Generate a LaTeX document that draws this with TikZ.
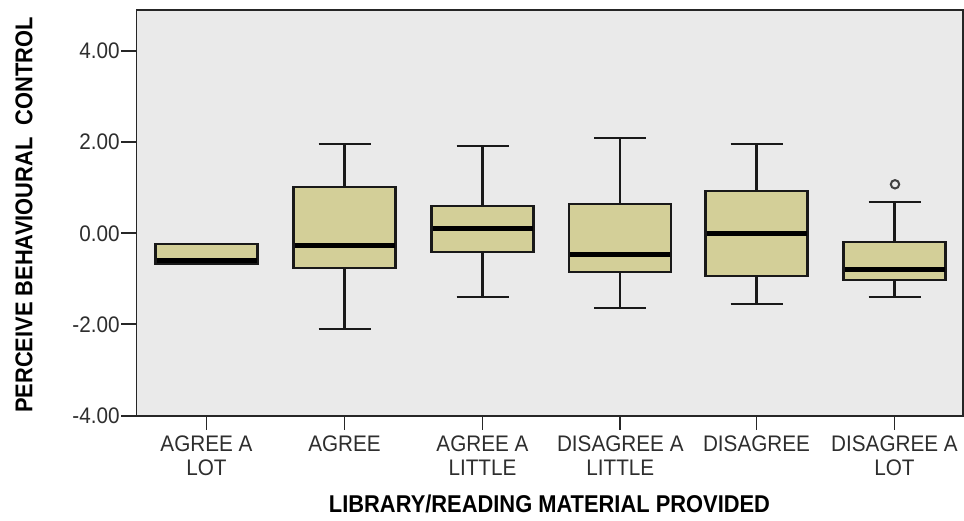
\documentclass[tikz,border=0pt]{standalone}
\usepackage{fontspec}
\setmainfont{Liberation Sans}
\newfontfamily\narrowsans[FakeStretch=0.92]{Liberation Sans}
\newfontfamily\narrowbold[FakeStretch=0.9]{Liberation Sans Bold}
\begin{document}
\begin{tikzpicture}[x=1pt,y=-1pt,
  axisline/.style={line width=1.8pt,draw=black!85},
  boxbody/.style={fill=boxfill,draw=black!90,line width=2.2pt},
  whisk/.style={draw=black!90,line width=2.1pt},
  medianbar/.style={draw=black,line width=5pt},
  ticklab/.style={font=\narrowsans\fontsize{22.5}{24}\selectfont,text=black!82,inner sep=0pt},
  catlab/.style={font=\narrowsans\fontsize{22.5}{24}\selectfont,text=black!82,align=center,inner sep=0pt,anchor=north},
  axtitle/.style={font=\narrowbold\fontsize{24.3}{24}\selectfont,inner sep=0pt}]
\definecolor{boxfill}{HTML}{D3CF98}
\definecolor{plotbg}{HTML}{EAEAEA}
\useasboundingbox (0,0) rectangle (964,521);
\fill[white] (0,0) rectangle (964,521);
% plot area
\fill[plotbg] (136.5,10) rectangle (963,416);
% y axis ticks and labels
\foreach \yy/\lab [count=\k] in {50.7/4.00,141.7/2.00,233.3/0.00,324.3/-2.00,416/-4.00}{
  \coordinate (yt\k) at (136.5,\yy);
  \draw[axisline] (yt\k) -- ++(-16,0) node[ticklab,anchor=east] (ylab\k) {\lab};
}
% boxes: centre / upper whisker / Q3 / median / Q1 / lower whisker
\foreach \cx/\wt/\qt/\md/\qb/\wb [count=\k] in {
  206.5/0/244/261/263.5/0,
  344.5/144.3/186.7/246/267.7/329,
  482.5/146/205.7/229/252.3/297.3,
  620.3/137.7/203.7/254.7/271.7/308,
  756.5/144/191/233.3/276/303.7,
  894.5/201.7/242/269.3/280.3/297}{
  \ifdim\wt pt>0pt
    \draw[whisk] (\cx,\wt) -- (\cx,\qt);
    \draw[whisk] (\cx,\qb) -- (\cx,\wb);
    \draw[whisk] (\cx-26,\wt) -- (\cx+26,\wt);
    \draw[whisk] (\cx-26,\wb) -- (\cx+26,\wb);
  \fi
  \draw[boxbody] (\cx-51,\qt) rectangle (\cx+51,\qb);
  \draw[medianbar] (\cx-50,\md) -- (\cx+50,\md);
  \coordinate (xt\k) at (\cx,416);
  \draw[axisline] (xt\k) -- ++(0,14);
}
% outlier
\draw[black!75,line width=2pt] (895,184.3) circle (4.2);
% frame
\draw[axisline] (136.5,10) rectangle (963,416);
% category labels
\node[catlab] (c1) at (206.5,436) {AGREE A\\LOT};
\node[catlab] (c2) at (344.5,436) {AGREE};
\node[catlab] (c3) at (482.5,436) {AGREE A\\LITTLE};
\node[catlab] (c4) at (620.3,436) {DISAGREE A\\LITTLE};
\node[catlab] (c5) at (756.5,436) {DISAGREE};
\node[catlab] (c6) at (894.5,436) {DISAGREE A\\LOT};
% axis titles
\node[axtitle] (xtitle) at (549.5,504) {LIBRARY/READING MATERIAL PROVIDED};
\node[axtitle,rotate=90] (ytitle) at (24,215) {PERCEIVE BEHAVIOURAL\ \ CONTROL};
\end{tikzpicture}
\end{document}
